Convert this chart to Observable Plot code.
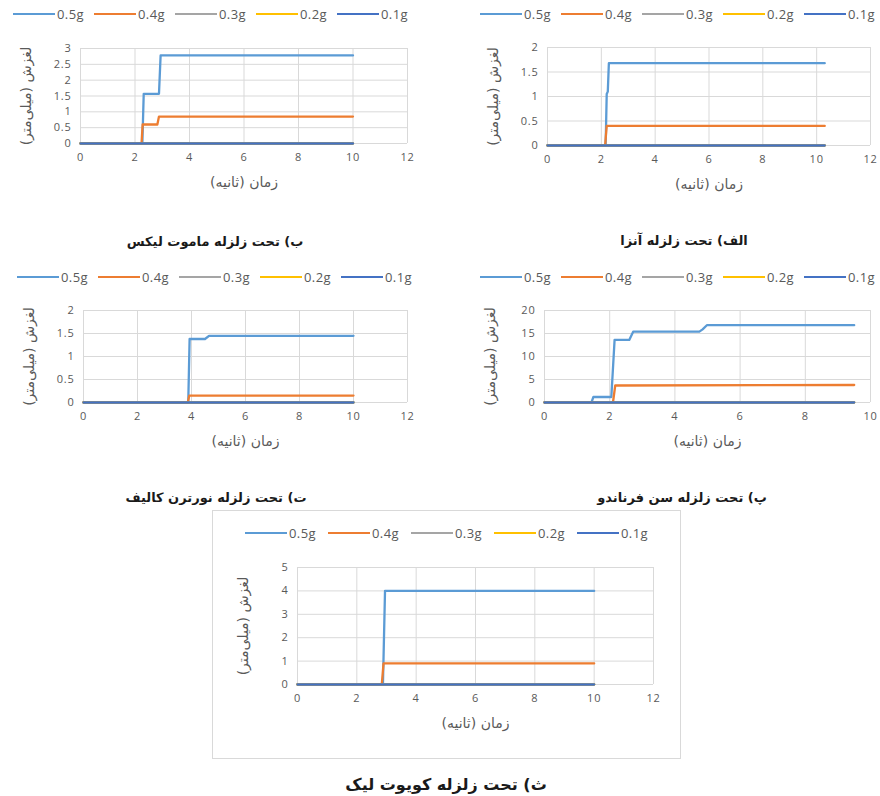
<!DOCTYPE html>
<html>
<head>
<meta charset="utf-8">
<script src="https://cdn.jsdelivr.net/npm/d3@7"></script>
<script src="https://cdn.jsdelivr.net/npm/@observablehq/plot@0.6"></script>
<style>
  html, body { margin: 0; padding: 0; background: #fff; }
  #root { position: relative; width: 880px; height: 796px; overflow: hidden; background: #fff; }
  .legend { position: absolute; display: flex; font-family: "Open Sans", sans-serif; font-size: 13px; color: #595959; letter-spacing: 0.4px; }
  .legend .item { display: flex; align-items: center; }
  .legend .sw { display: inline-block; height: 2.5px; margin-right: 2px; }
  .caption { position: absolute; width: 320px; text-align: center; font-family: "DejaVu Sans", sans-serif; font-weight: bold; font-size: 13px; color: #1a1a1a; }
  .box { position: absolute; border: 1px solid #d9d9d9; box-sizing: border-box; }
  svg { position: absolute; overflow: visible; }
  g[aria-label$="tick label"] text { letter-spacing: 0.8px; }
</style>
</head>
<body>
<div id="root"></div>
<script>
// ---- series / categories ----
const seriesNames = ["0.5g", "0.4g", "0.3g", "0.2g", "0.1g"];
const seriesColors = ["#5B9BD5", "#ED7D31", "#A5A5A5", "#FFC000", "#4472C4"];

// ---- tick labels ----
const xTicks12 = [0, 2, 4, 6, 8, 10, 12];
const xTicks10 = [0, 2, 4, 6, 8, 10];
const yTicks3 = [0, 0.5, 1, 1.5, 2, 2.5, 3];
const yTicks2 = [0, 0.5, 1, 1.5, 2];
const yTicks20 = [0, 5, 10, 15, 20];
const yTicks5 = [0, 1, 2, 3, 4, 5];

// ---- texts ----
const xTitle = "زمان (ثانیه)";
const yTitle = "لغزش (میلی‌متر)\u200F";

// ---- (b) Mammoth Lakes: [time s, slip mm] ----
const mammoth05 = [[0, 0], [2.27, 0], [2.32, 1.57], [2.88, 1.57], [2.94, 2.78], [10, 2.78]];
const mammoth04 = [[0, 0], [2.24, 0], [2.28, 0.6], [2.82, 0.6], [2.88, 0.85], [10, 0.85]];
const mammoth03 = [[0, 0], [10, 0]];
const mammoth02 = [[0, 0], [10, 0]];
const mammoth01 = [[0, 0], [10, 0]];

// ---- (alef) Anza ----
const anza05 = [[0, 0], [2.16, 0], [2.2, 1.05], [2.24, 1.1], [2.28, 1.68], [10.3, 1.68]];
const anza04 = [[0, 0], [2.14, 0], [2.2, 0.4], [10.3, 0.4]];
const anza03 = [[0, 0], [10.3, 0]];
const anza02 = [[0, 0], [10.3, 0]];
const anza01 = [[0, 0], [10.3, 0]];

// ---- (t) Northern California ----
const north05 = [[0, 0], [3.88, 0], [3.93, 1.38], [4.5, 1.38], [4.65, 1.45], [10, 1.45]];
const north04 = [[0, 0], [3.86, 0], [3.92, 0.15], [10, 0.15]];
const north03 = [[0, 0], [10, 0]];
const north02 = [[0, 0], [10, 0]];
const north01 = [[0, 0], [10, 0]];

// ---- (p) San Fernando ----
const sanf05 = [[0, 0], [1.44, 0], [1.5, 1.2], [2.05, 1.2], [2.15, 13.6], [2.6, 13.6], [2.72, 15.4], [4.75, 15.4], [4.85, 15.9], [4.98, 16.8], [9.5, 16.8]];
const sanf04 = [[0, 0], [2.1, 0], [2.17, 3.7], [9.5, 3.8]];
const sanf03 = [[0, 0], [9.5, 0]];
const sanf02 = [[0, 0], [9.5, 0]];
const sanf01 = [[0, 0], [9.5, 0]];

// ---- (s) Coyote Lake ----
const coyote05 = [[0, 0], [2.88, 0], [2.95, 4.0], [10, 4.0]];
const coyote04 = [[0, 0], [2.84, 0], [2.9, 0.9], [10, 0.9]];
const coyote03 = [[0, 0], [10, 0]];
const coyote02 = [[0, 0], [10, 0]];
const coyote01 = [[0, 0], [10, 0]];

// ---- layout ----
const panels = [
  { caption: "ب) تحت زلزله ماموت لیکس", series: [mammoth05, mammoth04, mammoth03, mammoth02, mammoth01],
    xDomain: [0, 12], xTicks: xTicks12, yDomain: [0, 3], yTicks: yTicks3,
    frame: [80, 48, 407, 143], legend: [13, 15, 81], cap: [215, 243, 13] },
  { caption: "الف) تحت زلزله آنزا", series: [anza05, anza04, anza03, anza02, anza01],
    xDomain: [0, 12], xTicks: xTicks12, yDomain: [0, 2], yTicks: yTicks2,
    frame: [547, 47, 870, 145], legend: [480, 15, 81], cap: [684, 242, 13] },
  { caption: "ت) تحت زلزله نورترن کالیف", series: [north05, north04, north03, north02, north01],
    xDomain: [0, 12], xTicks: xTicks12, yDomain: [0, 2], yTicks: yTicks2,
    frame: [83, 310, 407, 402], legend: [17, 278, 81], cap: [216, 499, 13] },
  { caption: "پ) تحت زلزله سن فرناندو", series: [sanf05, sanf04, sanf03, sanf02, sanf01],
    xDomain: [0, 10], xTicks: xTicks10, yDomain: [0, 20], yTicks: yTicks20,
    frame: [544, 310, 870, 402], legend: [480, 278, 81], cap: [682, 499, 13] },
  { caption: "ث) تحت زلزله کویوت لیک", series: [coyote05, coyote04, coyote03, coyote02, coyote01],
    xDomain: [0, 12], xTicks: xTicks12, yDomain: [0, 5], yTicks: yTicks5,
    frame: [297, 567, 653, 684], legend: [245, 534, 83], cap: [446, 786, 16] }
];

const root = document.getElementById("root");

// frame box around the bottom chart
const box = document.createElement("div");
box.className = "box";
Object.assign(box.style, { left: "212px", top: "510px", width: "469px", height: "249px" });
root.appendChild(box);

for (const p of panels) {
  const [fx0, fy0, fx1, fy1] = p.frame;
  const mL = 64, mR = 14, mT = 10, mB = 56;

  // one line mark per series, in legend order, so 0.1g is painted last (on top)
  const lineMarks = p.series.map((pts, i) =>
    Plot.line(pts.map(([t, v]) => ({ t, v, s: seriesNames[i] })),
      { x: "t", y: "v", stroke: "s", strokeWidth: 2.3, curve: "linear" }));

  const svg = Plot.plot({
    width: fx1 - fx0 + mL + mR,
    height: fy1 - fy0 + mT + mB,
    marginLeft: mL, marginRight: mR, marginTop: mT, marginBottom: mB,
    style: { fontFamily: "'Open Sans', sans-serif", fontSize: "11px", color: "#595959", background: "transparent" },
    x: { domain: p.xDomain },
    y: { domain: p.yDomain },
    color: { domain: seriesNames, range: seriesColors },
    marks: [
      Plot.gridX(p.xTicks, { stroke: "#d9d9d9", strokeOpacity: 1, strokeWidth: 1 }),
      Plot.gridY(p.yTicks, { stroke: "#d9d9d9", strokeOpacity: 1, strokeWidth: 1 }),
      Plot.axisX(p.xTicks, { tickSize: 0, tickPadding: 10, label: null, fill: "#595959", tickFormat: d => String(d) }),
      Plot.axisY(p.yTicks, { tickSize: 0, tickPadding: 9, label: null, fill: "#595959", tickFormat: d => String(d) }),
      ...lineMarks,
      Plot.text([xTitle], { text: d => d, frameAnchor: "bottom", dy: 43, fontSize: 14, fill: "#595959", fontFamily: "'DejaVu Sans', sans-serif", textAnchor: "middle" }),
      Plot.text([yTitle], { text: d => d, frameAnchor: "left", dx: -54, rotate: -90, fontSize: 14, fill: "#595959", fontFamily: "'DejaVu Sans', sans-serif", textAnchor: "middle" })
    ]
  });
  svg.style.left = (fx0 - mL) + "px";
  svg.style.top = (fy0 - mT) + "px";
  root.appendChild(svg);

  // legend
  const lg = document.createElement("div");
  lg.className = "legend";
  lg.style.left = p.legend[0] + "px";
  lg.style.top = (p.legend[1] - 10) + "px";
  seriesNames.forEach((name, i) => {
    const it = document.createElement("div");
    it.className = "item";
    it.style.width = p.legend[2] + "px";
    const sw = document.createElement("span");
    sw.className = "sw";
    sw.style.width = "42px";
    sw.style.background = seriesColors[i];
    const tx = document.createElement("span");
    tx.textContent = name;
    it.appendChild(sw);
    it.appendChild(tx);
    lg.appendChild(it);
  });
  root.appendChild(lg);

  // caption
  const cap = document.createElement("div");
  cap.className = "caption";
  cap.dir = "rtl";
  cap.textContent = p.caption;
  cap.style.fontSize = p.cap[2] + "px";
  cap.style.left = (p.cap[0] - 160) + "px";
  cap.style.top = (p.cap[1] - p.cap[2] * 0.7) + "px";
  root.appendChild(cap);
}
</script>
</body>
</html>
